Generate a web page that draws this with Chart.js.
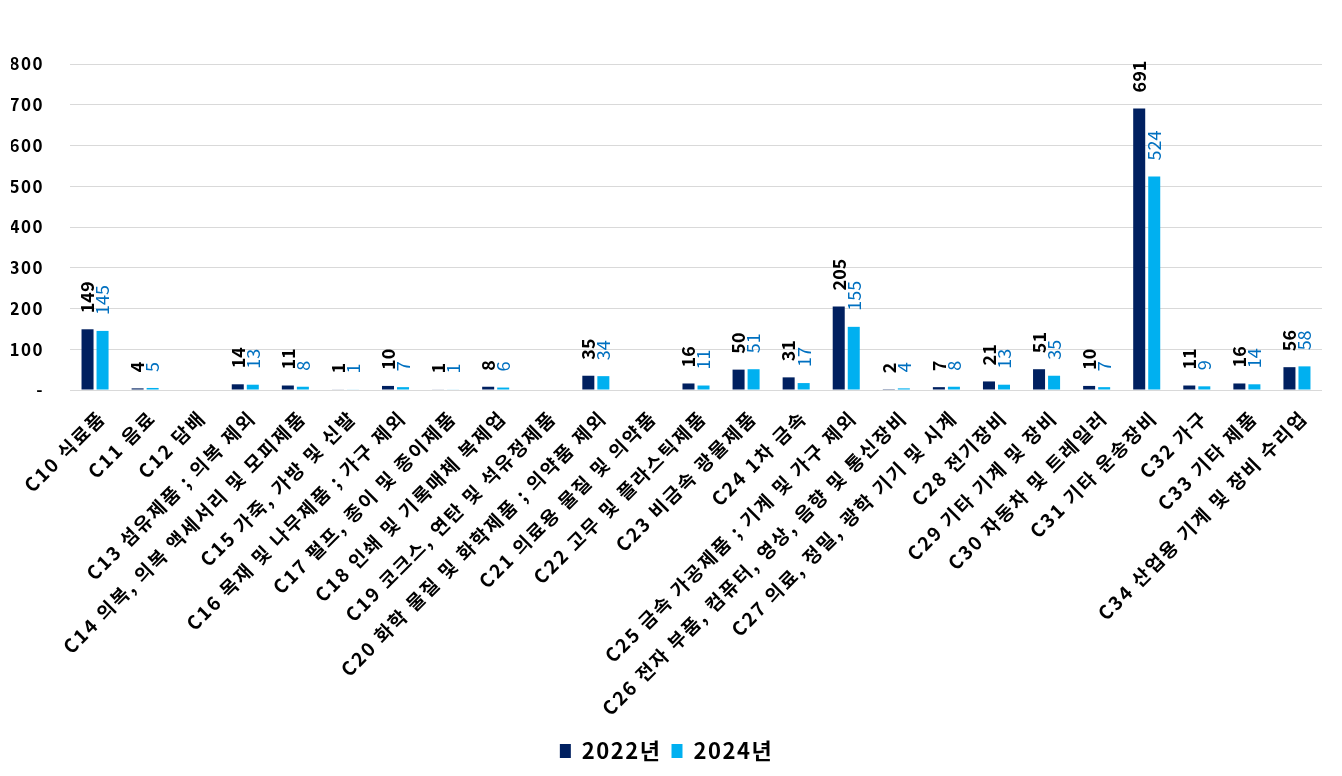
<!DOCTYPE html>
<html>
<head>
<meta charset="utf-8">
<script src="https://cdn.jsdelivr.net/npm/chart.js@4"></script>
<style>
  html, body { margin: 0; padding: 0; background: #fff; }
  #wrap { width: 1342px; height: 776px; position: relative; }
</style>
</head>
<body>
<div id="wrap"><canvas id="chart"></canvas></div>
<script>
const categories = [
    'C10 식료품', 'C11 음료', 'C12 담배', 'C13 섬유제품 ; 의복 제외',
    'C14 의복, 의복 액세서리 및 모피제품', 'C15 가죽, 가방 및 신발',
    'C16 목재 및 나무제품 ; 가구 제외', 'C17 펄프, 종이 및 종이제품',
    'C18 인쇄 및 기록매체 복제업', 'C19 코크스, 연탄 및 석유정제품',
    'C20 화학 물질 및 화학제품 ; 의약품 제외', 'C21 의료용 물질 및 의약품',
    'C22 고무 및 플라스틱제품', 'C23 비금속 광물제품', 'C24 1차 금속',
    'C25 금속 가공제품 ; 기계 및 가구 제외', 'C26 전자 부품, 컴퓨터, 영상, 음향 및 통신장비',
    'C27 의료, 정밀, 광학 기기 및 시계', 'C28 전기장비', 'C29 기타 기계 및 장비',
    'C30 자동차 및 트레일러', 'C31 기타 운송장비', 'C32 가구', 'C33 기타 제품',
    'C34 산업용 기계 및 장비 수리업'
]

const values2022 = [149, 4, null, 14, 11, 1, 10, 1, 8, null, 35, null, 16, 50, 31, 205, 2, 7, 21, 51, 10, 691, 11, 16, 56]
const values2024 = [145, 5, null, 13, 8, 1, 7, 1, 6, null, 34, null, 11, 51, 17, 155, 4, 8, 13, 35, 7, 524, 9, 14, 58]

const yTicks = [0, 100, 200, 300, 400, 500, 600, 700, 800]

const FONT = '"Noto Sans CJK KR", "Noto Sans", sans-serif'

// wider letter spacing for the axis text, like the original
const spacing = {
    id: 'spacing',
    beforeUpdate(chart) { chart.ctx.letterSpacing = '1.5px' },
    beforeDraw(chart) { chart.ctx.letterSpacing = '1.5px' }
}

// category labels at 45deg, allowed to hang left past the y axis
const xLabels = {
    id: 'xLabels',
    afterDraw(chart) {
        const ctx = chart.ctx
        const xs = chart.scales.x
        ctx.save()
        ctx.letterSpacing = '2px'
        ctx.font = 'bold 19px ' + FONT
        ctx.fillStyle = '#000'
        ctx.textAlign = 'right'
        ctx.textBaseline = 'middle'
        xs.getLabels().forEach((label, i) => {
            const x = xs.getPixelForTick(i)
            ctx.save()
            ctx.translate(x + 7, xs.top + 24)
            ctx.rotate(-Math.PI / 4)
            ctx.fillText(label, 0, 0)
            ctx.restore()
        })
        ctx.restore()
    }
}

// draws the rotated value labels on top of each bar
const barLabels = {
    id: 'barLabels',
    afterDatasetsDraw(chart) {
        const ctx = chart.ctx
        chart.data.datasets.forEach((ds, i) => {
            const meta = chart.getDatasetMeta(i)
            meta.data.forEach((bar, j) => {
                const v = ds.data[j]
                if (v === null || v === undefined) return
                ctx.save()
                ctx.letterSpacing = '0px'
                ctx.translate(bar.x, bar.y - 16)
                ctx.rotate(-Math.PI / 2)
                ctx.font = (i === 0 ? 'bold ' : '') + '18px ' + FONT
                ctx.fillStyle = i === 0 ? '#000000' : '#0070C0'
                ctx.textAlign = 'left'
                ctx.textBaseline = 'middle'
                ctx.fillText(String(v), 0, 0)
                ctx.restore()
            })
        })
    }
}

new Chart(document.getElementById('chart'), {
    type: 'bar',
    data: {
        labels: categories,
        datasets: [
            { label: '2022년', data: values2022, backgroundColor: '#002060' },
            { label: '2024년', data: values2024, backgroundColor: '#00B0F0' }
        ]
    },
    options: {
        responsive: true,
        maintainAspectRatio: false,
        animation: false,
        layout: { padding: { top: 64, left: 11, right: 20, bottom: 4 } },
        datasets: { bar: { categoryPercentage: 0.6, barPercentage: 0.8 } },
        scales: {
            x: {
                grid: { display: false },
                border: { display: false },
                ticks: { display: false },
                afterFit(scale) { scale.height = 340 }
            },
            y: {
                min: 0,
                max: 800,
                afterBuildTicks(axis) { axis.ticks = yTicks.map(v => ({ value: v })) },
                grid: { color: '#D9D9D9', drawTicks: false, lineWidth: 1 },
                border: { display: false },
                ticks: {
                    color: '#000',
                    font: { family: FONT, size: 17, weight: 'bold' },
                    padding: 26,
                    callback: v => v === 0 ? '-' : v
                },
                afterFit(scale) { scale.width = 59 }
            }
        },
        plugins: {
            legend: {
                position: 'bottom',
                labels: {
                    color: '#000',
                    font: { family: FONT, size: 22, weight: 'bold' },
                    boxWidth: 11,
                    boxHeight: 14,
                    padding: 10
                }
            },
            tooltip: { enabled: false }
        }
    },
    plugins: [spacing, xLabels, barLabels]
})
</script>
</body>
</html>
